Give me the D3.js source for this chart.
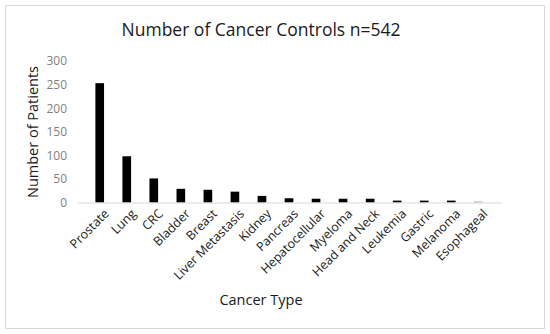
<!DOCTYPE html>
<html>
<head>
<meta charset="utf-8">
<script src="https://cdn.jsdelivr.net/npm/d3@7"></script>
<style>
  body { margin: 0; background: #fff; }
  text { font-family: "Open Sans", sans-serif; }
</style>
</head>
<body>
<div id="chart"></div>
<script>
const categories = ["Prostate", "Lung", "CRC", "Bladder", "Breast", "Liver Metastasis", "Kidney",
    "Pancreas", "Hepatocellular", "Myeloma", "Head and Neck", "Leukemia", "Gastric", "Melanoma", "Esophageal"];
const patients = [253, 98, 51, 29, 27, 23, 14, 9, 8, 8, 8, 4, 4, 4, 2];
const yTicks = [0, 50, 100, 150, 200, 250, 300];

const svgWidth = 550, svgHeight = 334;
const margin = { top: 61, right: 49, bottom: 131.5, left: 77 };
const width = svgWidth - margin.left - margin.right;
const height = svgHeight - margin.top - margin.bottom;

const svg = d3.select("#chart").append("svg")
    .attr("width", svgWidth)
    .attr("height", svgHeight);

// outer frame
svg.append("rect")
    .attr("x", 5.5).attr("y", 5.5)
    .attr("width", 539).attr("height", 323)
    .attr("fill", "none")
    .attr("stroke", "#d9d9d9");

svg.append("text")
    .attr("x", 261).attr("y", 36)
    .attr("text-anchor", "middle")
    .attr("font-size", "17.5px")
    .attr("fill", "#1a1a1a")
    .text("Number of Cancer Controls n=542");

const g = svg.append("g")
    .attr("transform", "translate(" + margin.left + "," + margin.top + ")");

const x = d3.scaleBand().domain(categories).range([0, width]).padding(0.68);
const y = d3.scaleLinear().domain([0, 300]).range([height, 0]);

// y axis: labels only
const yAxis = g.append("g").call(d3.axisLeft(y).tickValues(yTicks).tickSize(0).tickPadding(10));
yAxis.select(".domain").remove();
yAxis.selectAll("text")
    .attr("font-size", "12px")
    .attr("fill", "#7f7f7f")
    .style("font-family", "'Open Sans', sans-serif");

g.selectAll(".bar").data(patients).enter().append("rect")
    .attr("class", "bar")
    .attr("x", (d, i) => x(categories[i]))
    .attr("width", x.bandwidth())
    .attr("y", d => y(d))
    .attr("height", d => height - y(d))
    .attr("fill", (d, i) => i === categories.length - 1 ? "#a6a6a6" : "#000");

// x axis
const xAxis = g.append("g")
    .attr("transform", "translate(0," + height + ")")
    .call(d3.axisBottom(x).tickSize(0).tickPadding(0));
xAxis.select(".domain").attr("stroke", "#d9d9d9");
xAxis.selectAll("text")
    .attr("font-size", "12.5px")
    .attr("fill", "#1a1a1a")
    .style("font-family", "'Open Sans', sans-serif")
    .attr("text-anchor", "end")
    .attr("dy", null)
    .attr("y", 0)
    .attr("transform", "translate(10,12) rotate(-45)");

svg.append("text")
    .attr("transform", "translate(38," + (margin.top + 71) + ") rotate(-90)")
    .attr("text-anchor", "middle")
    .attr("font-size", "14.5px")
    .attr("fill", "#1a1a1a")
    .text("Number of Patients");

svg.append("text")
    .attr("x", 261).attr("y", 305)
    .attr("text-anchor", "middle")
    .attr("font-size", "14.5px")
    .attr("fill", "#1a1a1a")
    .text("Cancer Type");
</script>
</body>
</html>
